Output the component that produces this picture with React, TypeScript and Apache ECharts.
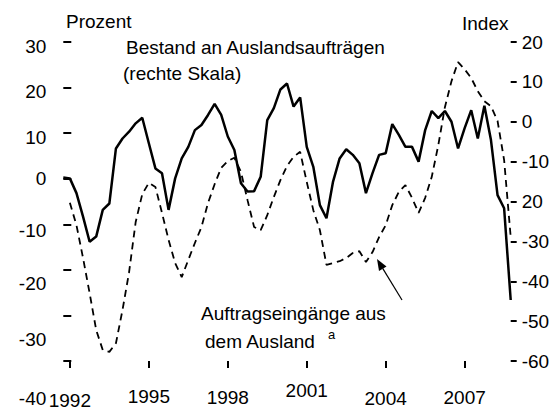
import React, { useEffect, useRef } from "react";
import * as echarts from "echarts";

// Quarterly categories, 1991Q4 .. 2008Q4
const quarters: string[] = ["1991Q4"];
for (let y = 1992; y <= 2008; y++) for (let q = 1; q <= 4; q++) quarters.push(`${y}Q${q}`);

// Bestand an Auslandsaufträgen (Index, rechte Skala)
const bestand: number[] = [
  -14.0, -14.2, -17.9, -23.8, -30.1, -28.8, -22.1, -20.5, -6.7, -4.2,
  -2.5, -0.4, 1.0, -5.4, -11.7, -12.9, -22.1, -14.2, -9.2, -6.3,
  -2.1, -0.8, 1.7, 4.5, 1.7, -3.7, -7.1, -15.4, -17.5, -17.4,
  -13.8, 0.4, 3.4, 8.1, 9.6, 3.8, 6.1, -6.3, -11.3, -20.9,
  -24.2, -15.0, -9.2, -6.9, -8.3, -10.4, -17.9, -12.9, -8.3, -7.9,
  -0.6, -3.3, -6.3, -6.3, -10.0, -2.1, 2.7, 0.9, 2.7, 0.0,
  -6.7, -1.6, 2.9, -4.2, 4.0, -4.6, -18.4, -21.7, -44.7,
];

// Auftragseingänge aus dem Ausland (Prozent, linke Skala)
const eingaenge: (number | null)[] = [
  null, -5.3, -10.2, -17.4, -25.1, -33.2, -37.6, -38.0, -36.1, -28.8,
  -20.5, -9.5, -3.4, -0.9, -1.8, -7.5, -13.4, -18.5, -21.6, -17.8,
  -14.1, -10.6, -5.3, -1.2, 2.4, 3.9, 4.6, 1.5, -4.7, -10.6,
  -11.3, -8.0, -4.0, -0.3, 2.8, 4.8, 5.9, -0.7, -6.9, -11.3,
  -18.9, -18.5, -18.1, -17.4, -16.3, -15.9, -18.3, -16.1, -12.8, -10.2,
  -5.8, -2.9, -1.4, -4.2, -7.5, -4.2, 0.4, 7.4, 15.7, 21.4,
  25.6, 24.0, 22.1, 19.2, 17.0, 15.9, 12.7, 4.1, -12.8,
];

// Axes
const leftAxisMin = -40;
const leftAxisMax = 30;
const rightAxisMin = -60;
const rightAxisMax = 20;
const tickYears = ["1992", "1995", "1998", "2001", "2004", "2007"];
const rightLabelText: Record<string, string> = { "-20": "20" };

// small vertical shifts of the hand-placed labels (px down)
const leftLabelShift: Record<string, number> = {
  "30": 4, "20": 4, "10": 4, "0": 0, "-10": 6, "-20": 14, "-30": 24, "-40": 37,
};
const xLabelShift: Record<string, number> = {
  "1992": 10, "1995": 6, "1998": 7, "2001": 0, "2004": 8, "2007": 7,
};

const FONT = "'Liberation Sans', Arial, sans-serif";
const FS = 19;

export default function App() {
  const ref = useRef<HTMLDivElement>(null);
  useEffect(() => {
    if (!ref.current) return;
    const chart = echarts.init(ref.current, undefined, { renderer: "svg" });

    const leftRich: Record<string, any> = {};
    Object.keys(leftLabelShift).forEach((k) => {
      const s = leftLabelShift[k];
      leftRich["s" + s] = { fontSize: FS, fontFamily: FONT, color: "#000", padding: [s * 2, 0, 0, 0] };
    });
    const xRich: Record<string, any> = {};
    Object.keys(xLabelShift).forEach((k) => {
      const s = xLabelShift[k];
      xRich["x" + s] = { fontSize: FS, fontFamily: FONT, color: "#000", padding: [s, 0, 0, 0] };
    });

    const isTick = (i: number) => i >= 1 && (i - 1) % 12 === 0;

    chart.setOption({
      animation: false,
      backgroundColor: "#fff",
      grid: { left: 63.3, right: 48.3, top: 42, bottom: 49, containLabel: false },
      xAxis: {
        type: "category",
        data: quarters,
        boundaryGap: false,
        axisLine: { show: false, onZero: false },
        axisTick: {
          show: true,
          length: 7,
          interval: (i: number) => isTick(i),
          lineStyle: { color: "#000", width: 2 },
        },
        axisLabel: {
          interval: (i: number) => isTick(i),
          margin: 20,
          fontSize: FS,
          fontFamily: FONT,
          color: "#000",
          formatter: (v: string) => {
            const yr = v.slice(0, 4);
            if (!tickYears.includes(yr)) return "";
            return `{x${xLabelShift[yr] ?? 0}|${yr}}`;
          },
          rich: xRich,
        },
        splitLine: { show: false },
      },
      yAxis: [
        {
          type: "value",
          position: "left",
          min: leftAxisMin,
          max: leftAxisMax,
          interval: 10,
          axisLine: { show: false },
          axisTick: { show: true, inside: true, length: 8, lineStyle: { color: "#000", width: 2 } },
          axisLabel: {
            margin: 17,
            fontSize: FS,
            fontFamily: FONT,
            color: "#000",
            formatter: (v: number) => `{s${leftLabelShift[String(v)] ?? 0}|${v}}`,
            rich: leftRich,
          },
          splitLine: { show: false },
        },
        {
          type: "value",
          position: "right",
          min: rightAxisMin,
          max: rightAxisMax,
          interval: 10,
          axisLine: { show: false },
          axisTick: { show: true, inside: false, length: 6, lineStyle: { color: "#000", width: 2 } },
          axisLabel: {
            margin: 11,
            fontSize: FS,
            fontFamily: FONT,
            color: "#000",
            formatter: (v: number) => rightLabelText[String(v)] ?? String(v),
          },
          splitLine: { show: false },
        },
      ],
      series: [
        {
          name: "Auftragseingänge aus dem Ausland",
          type: "line",
          yAxisIndex: 0,
          data: eingaenge,
          showSymbol: false,
          connectNulls: false,
          lineStyle: { color: "#000", width: 1.8, type: [7, 5] },
          z: 2,
        },
        {
          name: "Bestand an Auslandsaufträgen",
          type: "line",
          yAxisIndex: 1,
          data: bestand,
          showSymbol: false,
          lineStyle: { color: "#000", width: 2.5 },
          z: 3,
        },
      ],
      graphic: [
        { type: "text", x: 66, y: 21, silent: true,
          style: { text: "Prozent", fontSize: FS, fontFamily: FONT, fill: "#000", align: "left", verticalAlign: "middle" } },
        { type: "text", x: 462, y: 23, silent: true,
          style: { text: "Index", fontSize: FS, fontFamily: FONT, fill: "#000", align: "left", verticalAlign: "middle" } },
        { type: "text", x: 126, y: 47, silent: true,
          style: { text: "Bestand an Auslandsaufträgen", fontSize: FS, fontFamily: FONT, fill: "#000", align: "left", verticalAlign: "middle" } },
        { type: "text", x: 123, y: 73, silent: true,
          style: { text: "(rechte Skala)", fontSize: FS, fontFamily: FONT, fill: "#000", align: "left", verticalAlign: "middle" } },
        { type: "text", x: 201, y: 313, silent: true,
          style: { text: "Auftragseingänge aus", fontSize: FS, fontFamily: FONT, fill: "#000", align: "left", verticalAlign: "middle" } },
        { type: "text", x: 205, y: 341, silent: true,
          style: { text: "dem Ausland", fontSize: FS, fontFamily: FONT, fill: "#000", align: "left", verticalAlign: "middle" } },
        { type: "text", x: 328, y: 334, silent: true,
          style: { text: "a", fontSize: 13, fontFamily: FONT, fill: "#000", align: "left", verticalAlign: "middle" } },
        { type: "line", silent: true,
          shape: { x1: 402, y1: 300, x2: 382.7, y2: 268.4 },
          style: { stroke: "#000", lineWidth: 1.2 } },
        { type: "polygon", silent: true,
          shape: { points: [[377, 259], [386.5, 266.5], [379, 271]] },
          style: { fill: "#000" } },
      ],
    });
    return () => chart.dispose();
  }, []);
  return (
    <div
      ref={ref}
      style={{ position: "fixed", left: 0, top: 0, width: 559, height: 410, background: "#fff" }}
    />
  );
}
